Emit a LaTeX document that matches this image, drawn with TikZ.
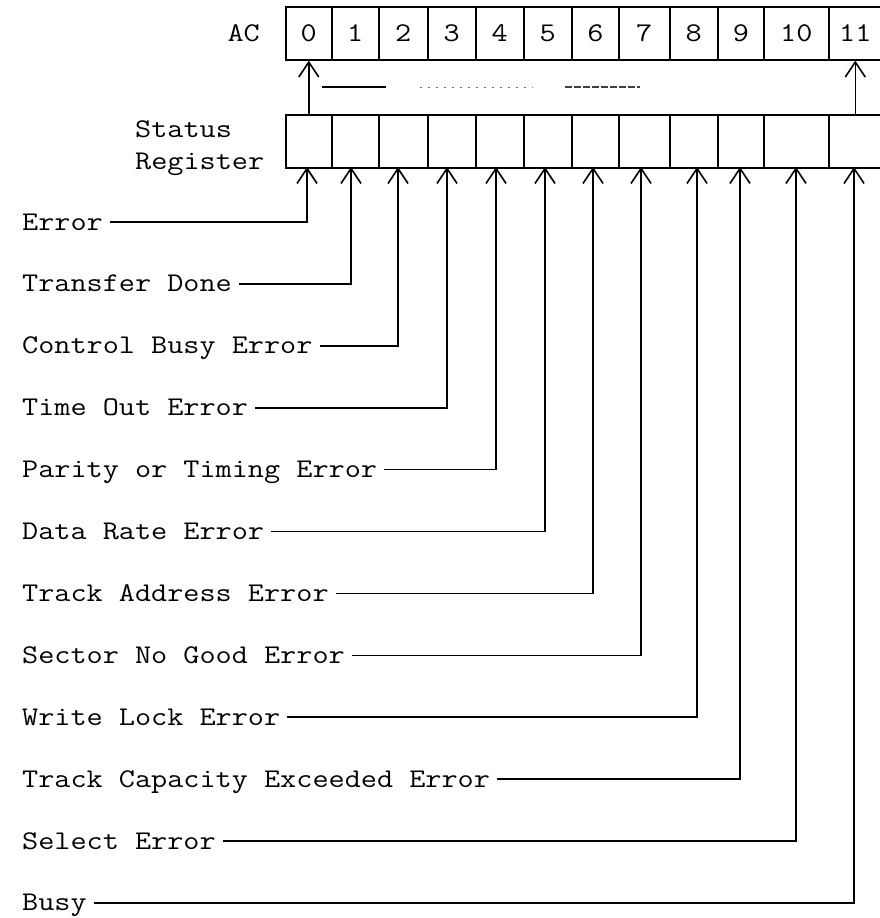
\documentclass[tikz,border=0pt]{standalone}
\usepackage{fontspec}
\setmonofont[FakeStretch=1.16]{Latin Modern Mono}
\usetikzlibrary{arrows.meta}
\begin{document}
\begin{tikzpicture}[x=1pt,y=-1pt,
  txt/.style={font=\ttfamily\fontsize{27}{32}\selectfont, text height=16pt, text depth=0pt},
  cell/.style={txt, draw, line width=1.6pt, minimum height=53pt, inner sep=0pt, anchor=north west},
  lab/.style={txt, anchor=west, inner xsep=7pt, inner ysep=0pt},
  arr/.style={line width=1.6pt, -{Straight Barb[length=15pt,width=20pt]}}
]
\useasboundingbox (0,0) rectangle (879,918);

% AC and status register cells
\foreach \i/\l/\r in {0/285/331,1/331/378,2/378/427,3/427/475,4/475/523,5/523/571,
                      6/571/618,7/618/669,8/669/717,9/717/763,10/763/828,11/828/881}{
  \node[cell, minimum width=\r-\l] (ac\i) at (\l,6) {\i};
  \node[cell, minimum width=\r-\l] (sr\i) at (\l,114) {};
}

\node[txt, anchor=east, inner xsep=0pt] (aclbl) at (260,33) {AC};
\node[lab] (st1) at (128,129) {Status};
\node[lab] (st2) at (128,161) {Register};

% transfer from status register to AC
\draw[arr] (sr0.north) -- (ac0.south);
\draw[arr] (sr11.north) -- (ac11.south);
\draw[line width=1.3pt] (322,87) -- (386,87);
\draw[line width=0.9pt, black!55, dash pattern=on 2pt off 6pt] (420,87) -- (533,87);
\draw[line width=1.1pt, black!75, dash pattern=on 7pt off 2pt] (565,87) -- (640,87);

% status bit inputs
\foreach \i/\x/\t in {0/307/Error, 1/351/Transfer Done, 2/398/Control Busy Error,
   3/447/Time Out Error, 4/496/Parity or Timing Error, 5/545/Data Rate Error,
   6/593/Track Address Error, 7/641/Sector No Good Error, 8/697/Write Lock Error,
   9/740/Track Capacity Exceeded Error, 10/796/Select Error, 11/854/Busy}{
  \coordinate (in\i) at (\x,167);
  \node[lab] (lab\i) at (15,{222+61.9*\i}) {\t};
  \draw[arr] (lab\i.east) -| (in\i);
}
\end{tikzpicture}
\end{document}
